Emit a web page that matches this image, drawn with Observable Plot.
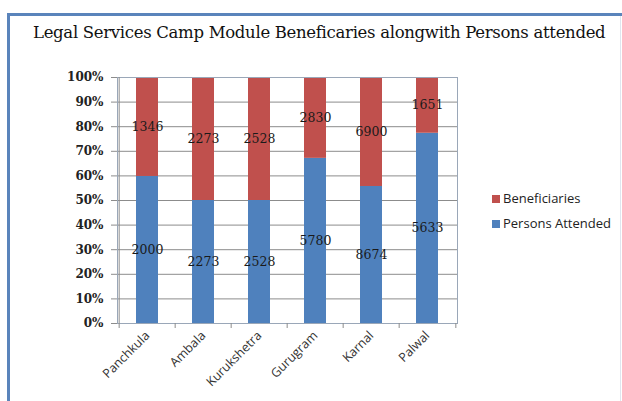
<!DOCTYPE html>
<html><head><meta charset="utf-8">
<script src="https://cdn.jsdelivr.net/npm/d3@7"></script>
<script src="https://cdn.jsdelivr.net/npm/@observablehq/plot@0.6"></script>
<style>
body{margin:0;background:#fff;}
#wrap{position:relative;width:622px;height:401px;overflow:hidden;background:#fff;}
#border{position:absolute;left:7px;top:13px;width:700px;height:500px;border-top:3px solid #5a84bb;border-left:3px solid #5a84bb;}
#rborder{position:absolute;left:620px;top:16px;width:1px;height:400px;background:#dfe6ef;}
#title{position:absolute;left:33px;top:23px;white-space:nowrap;font-family:"DejaVu Serif";font-size:16.5px;color:#111;}
#chart{position:absolute;left:0;top:60px;}
#legend{position:absolute;left:492px;top:186px;font-family:"Open Sans";font-size:13px;color:#222;}
.li{display:flex;align-items:center;height:25px;line-height:1;}
.sw{width:8px;height:8px;margin-right:3px;}
</style></head>
<body>
<div id="wrap">
  <div id="border"></div>
  <div id="rborder"></div>
  <div id="title"><span id="tt"></span></div>
  <div id="chart"></div>
  <div id="legend"></div>
</div>
<script>
const cities = ["Panchkula","Ambala","Kurukshetra","Gurugram","Karnal","Palwal"];
const personsAttended = [2000,2273,2528,5780,8674,5633];
const beneficiaries = [1346,2273,2528,2830,6900,1651];
const seriesNames = ["Persons Attended","Beneficiaries"];
const seriesColors = ["#4f81bd","#c0504d"];
const legendOrder = ["Beneficiaries","Persons Attended"];
const yTicks = [0,0.1,0.2,0.3,0.4,0.5,0.6,0.7,0.8,0.9,1];
const titleText = "Legal Services Camp Module Beneficaries alongwith Persons attended";

const data = [];
cities.forEach((c,i)=>{
  data.push({city:c, series:seriesNames[0], value:personsAttended[i]});
  data.push({city:c, series:seriesNames[1], value:beneficiaries[i]});
});

// fit title width
const tt = document.getElementById("tt");
tt.textContent = titleText;
const targetW = 572;
const w0 = tt.getBoundingClientRect().width;
tt.style.letterSpacing = ((targetW - w0) / titleText.length) + "px";

const W = 467, H = 340, ML = 117, MR = 10, MT = 17, MB = 77;
const step = (W - ML - MR) / cities.length;
const pct = d => Math.round(d*100) + "%";

const plot = Plot.plot({
  width: W, height: H, marginLeft: ML, marginRight: MR, marginTop: MT, marginBottom: MB,
  style: {background:"transparent", overflow:"visible"},
  x: {domain: cities, paddingInner: 0.6, paddingOuter: 0.3, label: null},
  y: {domain: [0,1], label: null},
  color: {domain: seriesNames, range: seriesColors},
  marks: [
    Plot.gridY(yTicks, {stroke:"#8c8c8c", strokeOpacity:1}),
    Plot.barY(data, Plot.stackY({offset:"normalize", x:"city", y:"value", fill:"series"})),
    Plot.text(data, Plot.stackY({offset:"normalize", x:"city", y:"value", text: d => String(d.value),
      fill:"#1a1a1a", fontSize:12.5, fontFamily:"DejaVu Serif"})),
    Plot.frame({stroke:"#9aa7b8"}),
    Plot.ruleX([0], {x: () => cities[0], dx: -step/2, y1:0, y2:1, stroke:"#8c8c8c"}),
    Plot.axisY({ticks: yTicks, tickFormat: pct, tickSize: 6, tickPadding: 8,
      fontFamily:"DejaVu Serif", fontWeight:"bold", fontSize:12, fill:"#222", stroke:"#8c8c8c"}),
    Plot.axisX({tickRotate:-45, tickSize:0, tickPadding: 10, fontFamily:"Open Sans", fontSize:12.5, fill:"#333"}),
    Plot.axisX({text:null, tickSize:5, dx:-step/2, stroke:"#8c8c8c"}),
    Plot.axisX([cities[cities.length-1]], {text:null, tickSize:5, dx:step/2, stroke:"#8c8c8c"})
  ]
});
document.getElementById("chart").appendChild(plot);

const leg = document.getElementById("legend");
legendOrder.forEach(n=>{
  const row = document.createElement("div"); row.className="li";
  const sw = document.createElement("div"); sw.className="sw";
  sw.style.background = seriesColors[seriesNames.indexOf(n)];
  const t = document.createElement("span"); t.textContent = n;
  row.appendChild(sw); row.appendChild(t); leg.appendChild(row);
});
</script>
</body></html>
